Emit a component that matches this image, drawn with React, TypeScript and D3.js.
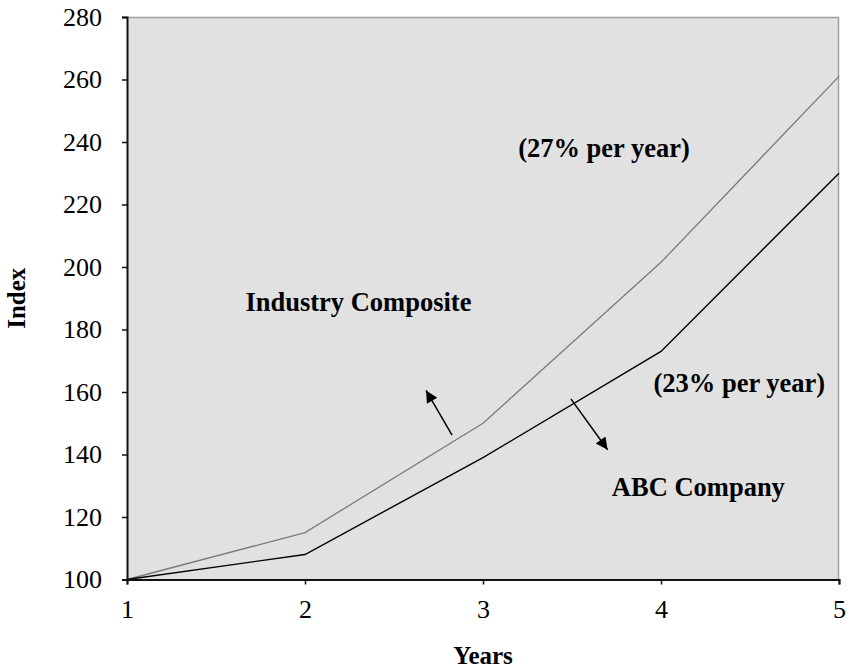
import React, { useRef, useEffect } from 'react';
import * as d3 from 'd3';

// chart data
const years = [1, 2, 3, 4, 5];
const industryComposite = [100, 115, 150, 201.5, 261];
const abcCompany = [100, 108, 139, 173, 230];
const yTicks = [100, 120, 140, 160, 180, 200, 220, 240, 260, 280];

// annotations, in data units
const labels = [
  { text: '(27% per year)', x: 3.68, y: 235.3 },
  { text: 'Industry Composite', x: 2.3, y: 185.8 },
  { text: '(23% per year)', x: 4.44, y: 160.1 },
  { text: 'ABC Company', x: 4.21, y: 126.8 },
];
const arrows = [
  { from: [2.826, 146.2], to: [2.68, 160.5] },
  { from: [3.494, 157.8], to: [3.7, 141.5] },
];

const width = 851;
const height = 670;
const margin = { top: 17, right: 12, bottom: 90.5, left: 127 };
const font = 'Liberation Serif, Times New Roman, serif';

export default function App() {
  const svgRef = useRef<SVGSVGElement>(null);

  useEffect(() => {
    if (!svgRef.current) return;
    d3.select(svgRef.current).selectAll('*').remove();

    const innerWidth = width - margin.left - margin.right;
    const innerHeight = height - margin.top - margin.bottom;

    const svg = d3.select(svgRef.current).attr('width', width).attr('height', height);

    const defs = svg.append('defs');
    defs.append('marker')
      .attr('id', 'arrowhead')
      .attr('viewBox', '0 0 10 10')
      .attr('refX', 10)
      .attr('refY', 5)
      .attr('markerWidth', 14)
      .attr('markerHeight', 12)
      .attr('markerUnits', 'userSpaceOnUse')
      .attr('orient', 'auto')
      .append('path')
      .attr('d', 'M0,0 L10,5 L0,10 Z')
      .attr('fill', '#000');

    const g = svg.append('g').attr('transform', `translate(${margin.left},${margin.top})`);

    const x = d3.scaleLinear().domain([1, 5]).range([0, innerWidth]);
    const y = d3.scaleLinear().domain([100, 280]).range([innerHeight, 0]);

    // plot background + top/right border
    g.append('rect')
      .attr('width', innerWidth)
      .attr('height', innerHeight)
      .attr('fill', '#e1e1e1');
    g.append('path')
      .attr('d', `M0,0.5 H${innerWidth - 0.5} V${innerHeight}`)
      .attr('fill', 'none')
      .attr('stroke', '#a0a0a0')
      .attr('stroke-width', 1.5);

    // lines
    const line = d3.line<number>()
      .x((_, i) => x(years[i]))
      .y(d => y(d));

    g.append('path')
      .datum(industryComposite)
      .attr('d', line)
      .attr('fill', 'none')
      .attr('stroke', '#7a7a7a')
      .attr('stroke-width', 1.3);

    g.append('path')
      .datum(abcCompany)
      .attr('d', line)
      .attr('fill', 'none')
      .attr('stroke', '#000')
      .attr('stroke-width', 1.4);

    // axes
    const yAxis = g.append('g')
      .call(d3.axisLeft(y).tickValues(yTicks).tickSize(5).tickPadding(20).tickFormat(d3.format('d')));
    const xAxis = g.append('g')
      .attr('transform', `translate(0,${innerHeight})`)
      .call(d3.axisBottom(x).tickValues(years).tickSize(5).tickPadding(15).tickFormat(d3.format('d')));

    [yAxis, xAxis].forEach(ax => {
      ax.attr('font-family', font).attr('font-size', 26);
      ax.select('.domain').attr('stroke', '#111').attr('stroke-width', 2);
      ax.selectAll('.tick line').attr('stroke', '#111').attr('stroke-width', 1.5);
      ax.selectAll('.tick text').attr('fill', '#000');
    });

    const annot = g.append('g')
      .attr('font-family', font)
      .attr('font-weight', 'bold')
      .attr('font-size', 26.5)
      .attr('fill', '#000');

    // annotations
    labels.forEach(l => {
      annot.append('text')
        .attr('x', x(l.x))
        .attr('y', y(l.y))
        .attr('text-anchor', 'middle')
        .text(l.text);
    });

    arrows.forEach(a => {
      g.append('line')
        .attr('x1', x(a.from[0]))
        .attr('y1', y(a.from[1]))
        .attr('x2', x(a.to[0]))
        .attr('y2', y(a.to[1]))
        .attr('stroke', '#000')
        .attr('stroke-width', 1.5)
        .attr('marker-end', 'url(#arrowhead)');
    });

    // axis titles
    const titles = svg.append('g')
      .attr('font-family', font)
      .attr('font-weight', 'bold')
      .attr('font-size', 25)
      .attr('fill', '#000');

    titles.append('text')
      .attr('transform', `translate(25,${margin.top + innerHeight / 2}) rotate(-90)`)
      .attr('text-anchor', 'middle')
      .text('Index');

    titles.append('text')
      .attr('x', margin.left + innerWidth / 2)
      .attr('y', 664)
      .attr('text-anchor', 'middle')
      .text('Years');
  }, []);

  return (
    <svg
      ref={svgRef}
      style={{ position: 'absolute', left: 0, top: 0, display: 'block', background: '#fff' }}
    />
  );
}
